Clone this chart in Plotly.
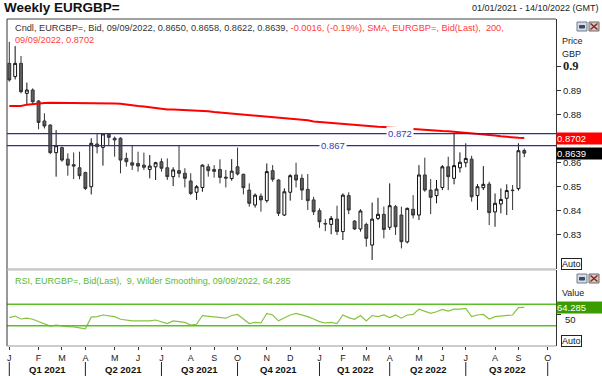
import plotly.graph_objects as go
import pandas as pd

# ---------------- data ----------------
dates = pd.date_range("2021-01-01", periods=89, freq="7D")  # weekly bars (Fridays)

opens = [0.9013, 0.8958, 0.9013, 0.8888, 0.8902, 0.8856, 0.8773, 0.8756, 0.8641, 0.8662,
         0.8614, 0.8591, 0.8578, 0.8558, 0.8499, 0.8677, 0.8663, 0.8717, 0.8701, 0.8701,
         0.8617, 0.8599, 0.8596, 0.8589, 0.8571, 0.8582, 0.8603, 0.8578, 0.8541, 0.8566,
         0.8555, 0.8523, 0.8476, 0.8496, 0.8582, 0.8571, 0.8571, 0.8539, 0.8533, 0.8582,
         0.8551, 0.8485, 0.8423, 0.8460, 0.8441, 0.8566, 0.8527, 0.8381, 0.8476, 0.8548,
         0.8534, 0.8488, 0.8444, 0.8399, 0.8346, 0.8342, 0.8364, 0.8312, 0.8462, 0.8356,
         0.8323, 0.8342, 0.8256, 0.8367, 0.8384, 0.8330, 0.8416, 0.8381, 0.8269, 0.8405,
         0.8381, 0.8548, 0.8485, 0.8462, 0.8496, 0.8582, 0.8534, 0.8578, 0.8599, 0.8614,
         0.8462, 0.8495, 0.8510, 0.8394, 0.8427, 0.8451, 0.8485, 0.8491, 0.8650]
highs = [0.9103, 0.9085, 0.9044, 0.8933, 0.8909, 0.8860, 0.8805, 0.8759, 0.8735, 0.8666,
         0.8638, 0.8642, 0.8645, 0.8562, 0.8701, 0.8719, 0.8721, 0.8720, 0.8708, 0.8705,
         0.8641, 0.8669, 0.8645, 0.8641, 0.8631, 0.8603, 0.8617, 0.8617, 0.8580, 0.8670,
         0.8576, 0.8555, 0.8506, 0.8592, 0.8594, 0.8589, 0.8613, 0.8569, 0.8614, 0.8662,
         0.8553, 0.8513, 0.8471, 0.8471, 0.8596, 0.8589, 0.8530, 0.8492, 0.8551, 0.8599,
         0.8551, 0.8552, 0.8457, 0.8409, 0.8364, 0.8377, 0.8420, 0.8471, 0.8476, 0.8360,
         0.8405, 0.8349, 0.8433, 0.8453, 0.8416, 0.8513, 0.8423, 0.8416, 0.8412, 0.8464,
         0.8589, 0.8620, 0.8531, 0.8527, 0.8589, 0.8624, 0.8721, 0.8642, 0.8680, 0.8628,
         0.8510, 0.8585, 0.8520, 0.8471, 0.8492, 0.8509, 0.8506, 0.8680, 0.8658]
lows = [0.8937, 0.8946, 0.8888, 0.8844, 0.8842, 0.8738, 0.8742, 0.8635, 0.8541, 0.8603,
        0.8545, 0.8531, 0.8530, 0.8485, 0.8467, 0.8638, 0.8587, 0.8673, 0.8624, 0.8555,
        0.8583, 0.8569, 0.8562, 0.8569, 0.8534, 0.8527, 0.8562, 0.8527, 0.8502, 0.8537,
        0.8496, 0.8464, 0.8444, 0.8478, 0.8541, 0.8537, 0.8513, 0.8496, 0.8524, 0.8546,
        0.8467, 0.8416, 0.8412, 0.8395, 0.8433, 0.8520, 0.8377, 0.8377, 0.8441, 0.8496,
        0.8444, 0.8402, 0.8381, 0.8328, 0.8314, 0.8301, 0.8298, 0.8277, 0.8385, 0.8319,
        0.8312, 0.8249, 0.8194, 0.8360, 0.8284, 0.8319, 0.8298, 0.8242, 0.8263, 0.8367,
        0.8360, 0.8478, 0.8385, 0.8430, 0.8485, 0.8485, 0.8509, 0.8558, 0.8580, 0.8437,
        0.8402, 0.8485, 0.8339, 0.8332, 0.8388, 0.8381, 0.8402, 0.8483, 0.8622]
closes = [0.8944, 0.9013, 0.8895, 0.8902, 0.8853, 0.8767, 0.8752, 0.8641, 0.8670, 0.8610,
          0.8589, 0.8585, 0.8545, 0.8492, 0.8680, 0.8666, 0.8719, 0.8705, 0.8694, 0.8610,
          0.8603, 0.8589, 0.8585, 0.8580, 0.8585, 0.8599, 0.8576, 0.8541, 0.8569, 0.8555,
          0.8534, 0.8471, 0.8499, 0.8589, 0.8566, 0.8563, 0.8538, 0.8535, 0.8564, 0.8552,
          0.8495, 0.8430, 0.8464, 0.8444, 0.8562, 0.8530, 0.8388, 0.8478, 0.8545, 0.8527,
          0.8485, 0.8441, 0.8395, 0.8353, 0.8344, 0.8367, 0.8312, 0.8464, 0.8402, 0.8323,
          0.8398, 0.8284, 0.8364, 0.8384, 0.8321, 0.8420, 0.8332, 0.8270, 0.8409, 0.8381,
          0.8548, 0.8485, 0.8455, 0.8489, 0.8582, 0.8541, 0.8587, 0.8601, 0.8617, 0.8457,
          0.8499, 0.8509, 0.8391, 0.8430, 0.8446, 0.8483, 0.8483, 0.8649, 0.8639]
sma200 = [0.8835, 0.8835, 0.8835, 0.8841, 0.8844, 0.8846, 0.8848, 0.8849, 0.8849, 0.8849,
          0.8849, 0.8849, 0.8849, 0.8849, 0.8849, 0.8846, 0.8846, 0.8846, 0.8846, 0.8845,
          0.8841, 0.8838, 0.8835, 0.8833, 0.8830, 0.8827, 0.8823, 0.8821, 0.8821, 0.8820,
          0.8817, 0.8816, 0.8816, 0.8814, 0.8813, 0.8810, 0.8808, 0.8806, 0.8805, 0.8802,
          0.8799, 0.8796, 0.8794, 0.8794, 0.8792, 0.8789, 0.8787, 0.8784, 0.8783, 0.8780,
          0.8778, 0.8776, 0.8771, 0.8769, 0.8766, 0.8763, 0.8760, 0.8758, 0.8756, 0.8755,
          0.8753, 0.8752, 0.8751, 0.8749, 0.8748, 0.8746, 0.8745, 0.8744, 0.8741, 0.8738,
          0.8737, 0.8735, 0.8734, 0.8733, 0.8731, 0.8730, 0.8728, 0.8726, 0.8724, 0.8723,
          0.8720, 0.8717, 0.8714, 0.8712, 0.8709, 0.8706, 0.8705, 0.8703, 0.8702]
rsi9 = [45, 48, 42.5, 44, 42, 37.5, 32.5, 29, 31, 29,
        28, 27.5, 26, 24, 46, 47, 50, 49, 47, 42,
        40, 39, 39, 39, 39, 40.6, 37.5, 34, 39, 37.5,
        36, 31, 32.5, 49, 47.5, 47, 45, 44, 49, 51,
        42.5, 34, 36, 35, 53, 50, 39, 44, 50, 53,
        50, 47, 42.5, 37.5, 35, 36, 34, 50, 45, 42,
        49, 39, 49, 47, 50, 45, 50, 44, 50, 51,
        61, 57.5, 53, 56, 60.6, 57.5, 61, 61, 62.5, 47,
        50, 51, 42.5, 47, 48, 50, 50, 63.75, 64.285]

level_lines = [0.872, 0.867]
rsi_levels = [70, 30]
rsi_mid = 50
price_ticks = [0.83, 0.84, 0.85, 0.86, 0.88, 0.89, 0.90]
price_tick_text = ["0.83", "0.84", "0.85", "0.86", "0.88", "0.89",
                   "<span style='font-size:12.5px;font-family:Liberation Serif'><b>0.9</b></span>"]
quarter_names = ["Q1 2021", "Q2 2021", "Q3 2021", "Q4 2021", "Q1 2022", "Q2 2022", "Q3 2022"]
last_sma = 0.8702
last_close = 0.8639
last_rsi = 64.285

for arr in (opens, highs, lows, closes, sma200, rsi9):
    assert len(arr) == len(dates)

# ---------------- layout helpers ----------------
W, H = 602, 376
L, R, T, B = 7, 556, 19, 346
MAIN_BOTTOM, RSI_TOP = 269, 270
FONT = "Arial, Liberation Sans, sans-serif"


def pxx(px):
    return (px - L) / (R - L)


def pxy(py):
    return (B - py) / (B - T)


x_start = pd.Timestamp("2020-12-29 06:00")
x_end = pd.Timestamp("2022-10-16 22:00")

fridays = pd.date_range("2021-01-01", "2022-10-14", freq="W-FRI")
month_firsts = pd.Series(fridays).groupby([fridays.year, fridays.month]).min().tolist()
month_letters = [d.strftime("%b")[0] for d in month_firsts]
quarter_bounds = [d for d in month_firsts if d.month in (1, 4, 7, 10)]

fig = go.Figure()

fig.add_trace(go.Candlestick(
    x=dates, open=opens, high=highs, low=lows, close=closes,
    increasing=dict(line=dict(color="#111111", width=1), fillcolor="#ffffff"),
    decreasing=dict(line=dict(color="#333333", width=1), fillcolor="#606060"),
    whiskerwidth=0, showlegend=False, hoverinfo="skip", xaxis="x", yaxis="y"))

fig.add_trace(go.Scatter(x=dates, y=sma200, mode="lines",
                         line=dict(color="#ff0000", width=2), showlegend=False,
                         hoverinfo="skip", xaxis="x", yaxis="y"))

fig.add_trace(go.Scatter(x=dates, y=rsi9, mode="lines",
                         line=dict(color="#86c440", width=1.2), showlegend=False,
                         hoverinfo="skip", xaxis="x", yaxis="y2"))

shapes = []
# level lines
for lv in level_lines:
    shapes.append(dict(type="line", xref="paper", yref="y", x0=0, x1=1, y0=lv, y1=lv,
                       line=dict(color="#2e2e96", width=1.2)))
for lv in rsi_levels:
    shapes.append(dict(type="line", xref="paper", yref="y2", x0=0, x1=1, y0=lv, y1=lv,
                       line=dict(color="#5cbf2a", width=1.5)))
# frames
shapes += [
    dict(type="line", xref="paper", yref="paper", x0=0, x1=0, y0=0, y1=1, line=dict(color="#333", width=1)),
    dict(type="line", xref="paper", yref="paper", x0=0, x1=1, y0=1, y1=1, line=dict(color="#444", width=1)),
    dict(type="line", xref="paper", yref="paper", x0=0, x1=1, y0=pxy(MAIN_BOTTOM), y1=pxy(MAIN_BOTTOM), line=dict(color="#aaaaaa", width=1)),
    dict(type="line", xref="paper", yref="paper", x0=0, x1=1, y0=pxy(RSI_TOP), y1=pxy(RSI_TOP), line=dict(color="#bbbbbb", width=1)),
    dict(type="line", xref="paper", yref="paper", x0=0, x1=1, y0=0, y1=0, line=dict(color="#999999", width=1)),
]
# quarter separators
for qb in quarter_bounds:
    shapes.append(dict(type="line", xref="x", yref="paper", x0=qb, x1=qb, y0=pxy(362), y1=pxy(376),
                       line=dict(color="#222", width=1)))
# panel buttons
for top in (22, 274):
    shapes.append(dict(type="rect", xref="paper", yref="paper", x0=pxx(577), x1=pxx(587),
                       y0=pxy(top + 9), y1=pxy(top), line=dict(color="#6b7d92", width=1), fillcolor="#d6dde6"))
    shapes.append(dict(type="rect", xref="paper", yref="paper", x0=pxx(579.5), x1=pxx(584.5),
                       y0=pxy(top + 6), y1=pxy(top + 3.5), line=dict(color="#3d4a5c", width=1), fillcolor="#3d4a5c"))
    shapes.append(dict(type="rect", xref="paper", yref="paper", x0=pxx(589), x1=pxx(599),
                       y0=pxy(top + 9), y1=pxy(top), line=dict(color="#6b6b6b", width=1), fillcolor="#d9c7c4"))
    shapes.append(dict(type="line", xref="paper", yref="paper", x0=pxx(590.5), x1=pxx(597.5),
                       y0=pxy(top + 7.5), y1=pxy(top + 1.5), line=dict(color="#8a2a20", width=1.6)))
    shapes.append(dict(type="line", xref="paper", yref="paper", x0=pxx(590.5), x1=pxx(597.5),
                       y0=pxy(top + 1.5), y1=pxy(top + 7.5), line=dict(color="#8a2a20", width=1.6)))

ann = []


def txt(x, y, text, size=9, color="#222", xanchor="left", bold=False, **kw):
    ann.append(dict(xref="paper", yref="paper", x=pxx(x), y=pxy(y), text=f"<b>{text}</b>" if bold else text,
                    showarrow=False, xanchor=xanchor, yanchor="middle",
                    font=dict(family=FONT, size=size, color=color), **kw))


txt(2, 8, "Weekly EURGBP=", size=13.5, color="#111", bold=True)
txt(601, 8, "01/01/2021 - 14/10/2022 (GMT)", size=9, color="#222", xanchor="right")
txt(13, 28,
    "<span style='color:#333333'>Cndl, EURGBP=, Bid, 09/09/2022, 0.8650, 0.8658, 0.8622, 0.8639, </span>"
    "<span style='color:#ff3b3b'>-0.0016, (-0.19%), SMA, EURGBP=, Bid(Last),  200,</span>", size=9.2)
txt(13, 40, "09/09/2022, 0.8702", size=9.2, color="#ff3b3b")
txt(13, 281, "RSI, EURGBP=, Bid(Last),  9, Wilder Smoothing, 09/09/2022, 64.285", size=9, color="#5cb82e")
txt(560, 41, "Price", size=9)
txt(560, 54, "GBP", size=9)
txt(560, 293, "Value", size=9)
txt(563, 319.5, "50", size=9.5)

# level labels
ann.append(dict(xref="paper", yref="y", x=pxx(400), y=level_lines[0], text="0.872", showarrow=False,
                xanchor="center", yanchor="middle", bgcolor="#ffffff", borderpad=1,
                font=dict(family=FONT, size=9.5, color="#3a3ab4")))
ann.append(dict(xref="paper", yref="y", x=pxx(332.5), y=level_lines[1], text="0.867", showarrow=False,
                xanchor="center", yanchor="middle", bgcolor="#ffffff", borderpad=1,
                font=dict(family=FONT, size=9.5, color="#3a3ab4")))
# last value tags
ann.append(dict(xref="paper", yref="y", x=1, y=last_sma, text=f"{last_sma:.4f}", showarrow=False,
                xanchor="left", yanchor="middle", bgcolor="#ff0000", width=46, align="left", borderpad=0,
                font=dict(family=FONT, size=9.5, color="#ffffff")))
ann.append(dict(xref="paper", yref="y", x=1, y=last_close, text=f"{last_close:.4f}", showarrow=False,
                xanchor="left", yanchor="middle", bgcolor="#000000", width=46, align="left", borderpad=0,
                font=dict(family=FONT, size=9.5, color="#ffffff")))
ann.append(dict(xref="paper", yref="y2", x=1, y=last_rsi, text=f"{last_rsi:.3f}", showarrow=False,
                xanchor="left", yanchor="middle", bgcolor="#3a9c00", width=46, align="left", borderpad=0,
                font=dict(family=FONT, size=9.5, color="#ffffff")))
# Auto buttons
for yy in (263.5, 340.5):
    ann.append(dict(xref="paper", yref="paper", x=pxx(561), y=pxy(yy), text="Auto", showarrow=False,
                    xanchor="left", yanchor="middle", bgcolor="#ffffff", bordercolor="#222", borderwidth=1,
                    borderpad=0, font=dict(family=FONT, size=9, color="#111")))
# quarter labels
for i, qn in enumerate(quarter_names):
    mid = quarter_bounds[i] + (quarter_bounds[i + 1] - quarter_bounds[i]) / 2
    ann.append(dict(xref="x", yref="paper", x=mid, y=pxy(369), text=f"<b>{qn}</b>", showarrow=False,
                    xanchor="center", yanchor="middle", font=dict(family=FONT, size=9.5, color="#111")))

fig.update_layout(
    width=W, height=H,
    margin=dict(l=L, r=W - R, t=T, b=H - B, pad=0),
    paper_bgcolor="#ffffff", plot_bgcolor="#ffffff",
    showlegend=False,
    shapes=shapes, annotations=ann,
    font=dict(family=FONT, size=9, color="#222"),
    xaxis=dict(domain=[0, 1], anchor="y2", type="date", range=[x_start, x_end],
               tickvals=month_firsts, ticktext=month_letters, ticks="outside", ticklen=3,
               tickcolor="#333", tickfont=dict(size=9, color="#222"), showgrid=False,
               zeroline=False, showline=False, rangeslider=dict(visible=False)),
    yaxis=dict(domain=[pxy(MAIN_BOTTOM), 1], anchor="x", side="right",
               range=[0.81562, 0.91979], tickvals=price_ticks, ticktext=price_tick_text,
               ticks="outside", ticklen=4, tickcolor="#333", showline=True, linecolor="#333",
               showgrid=False, zeroline=False, tickfont=dict(size=9.5, color="#222")),
    yaxis2=dict(domain=[0, pxy(RSI_TOP)], anchor="x", side="right", range=[-8.3, 134.6],
                tickvals=[rsi_mid], ticktext=[""], ticks="outside", ticklen=4, tickcolor="#333",
                showline=True, linecolor="#333", showgrid=False, zeroline=False,
                tickfont=dict(size=9.5, color="#222")),
)

fig.write_html("out.html", config={"displayModeBar": False},
               post_script="document.body.style.margin='0';document.body.style.padding='0';"
                           "document.body.style.overflow='hidden';")
